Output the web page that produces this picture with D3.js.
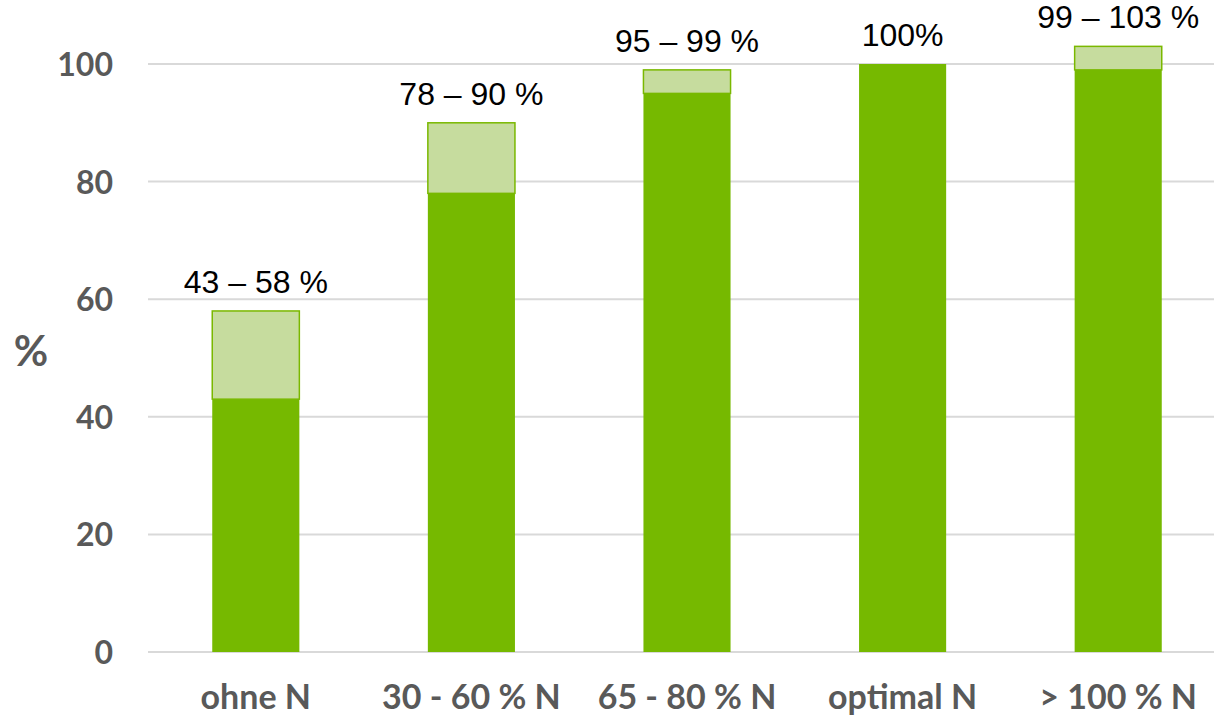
<!DOCTYPE html>
<html><head><meta charset="utf-8">
<script src="https://cdn.jsdelivr.net/npm/d3@7"></script>
<style>body{margin:0;background:#fff}</style>
</head><body>
<svg id="c" width="1214" height="716"></svg>
<script>
const categories = ["ohne N", "30 - 60 % N", "65 - 80 % N", "optimal N", "> 100 % N"];
const lowValues = [43, 78, 95, 100, 99];
const highValues = [58, 90, 99, 100, 103];
const valueLabels = ["43 – 58 %", "78 – 90 %", "95 – 99 %", "100%", "99 – 103 %"];
const yTicks = [0, 20, 40, 60, 80, 100];

const svg = d3.select("#c");
const x = d3.scaleBand().domain(categories).range([148, 1226]).paddingInner(0.596).paddingOuter(0.298);
const y = d3.scaleLinear().domain([0, 100]).range([652, 64]);

// gridlines
svg.append("g").selectAll("line").data(yTicks).join("line")
  .attr("x1", 148).attr("x2", 1214)
  .attr("y1", d => y(d)).attr("y2", d => y(d))
  .attr("stroke", "#d9d9d9").attr("stroke-width", 2);

// y axis labels
const yAxis = d3.axisLeft(y).tickValues(yTicks).tickSize(0).tickPadding(0);
const ya = svg.append("g").attr("transform", "translate(113,0)").call(yAxis);
ya.select(".domain").remove();
ya.selectAll("text").attr("font-family", "Lato, sans-serif").attr("font-weight", "bold")
  .attr("font-size", 32).attr("fill", "#595959").attr("dy", "0.36em");

// x axis labels
const xAxis = d3.axisBottom(x).tickSize(0).tickPadding(0);
const xa = svg.append("g").attr("transform", "translate(0,709)").call(xAxis);
xa.select(".domain").remove();
xa.selectAll("text").attr("font-family", "Lato, sans-serif").attr("font-weight", "bold")
  .attr("font-size", 34).attr("fill", "#595959").attr("dy", 0);

// y title
svg.append("text").attr("x", 31).attr("y", 366).attr("text-anchor", "middle")
  .attr("font-family", "Lato, sans-serif").attr("font-weight", "bold").attr("font-size", 42)
  .attr("fill", "#595959").text("%");

const data = categories.map((c, i) => ({c, lo: lowValues[i], hi: highValues[i], label: valueLabels[i]}));

// light range segment
svg.append("g").selectAll("rect").data(data.filter(d => d.hi > d.lo)).join("rect")
  .attr("x", d => x(d.c)).attr("width", x.bandwidth())
  .attr("y", d => y(d.hi)).attr("height", d => y(d.lo) - y(d.hi))
  .attr("fill", "#c6dc9e").attr("stroke", "#7ab800").attr("stroke-width", 1.5);

// dark base segment
svg.append("g").selectAll("rect").data(data).join("rect")
  .attr("x", d => x(d.c)).attr("width", x.bandwidth())
  .attr("y", d => y(d.lo)).attr("height", d => y(0) - y(d.lo))
  .attr("fill", "#76b900");

// value labels
svg.append("g").selectAll("text").data(data).join("text")
  .attr("x", d => x(d.c) + x.bandwidth() / 2).attr("y", d => y(d.hi) - 18)
  .attr("text-anchor", "middle").attr("font-family", "'Liberation Sans', Arial, sans-serif")
  .attr("font-size", 32).attr("fill", "#000").text(d => d.label);
</script>
</body></html>
